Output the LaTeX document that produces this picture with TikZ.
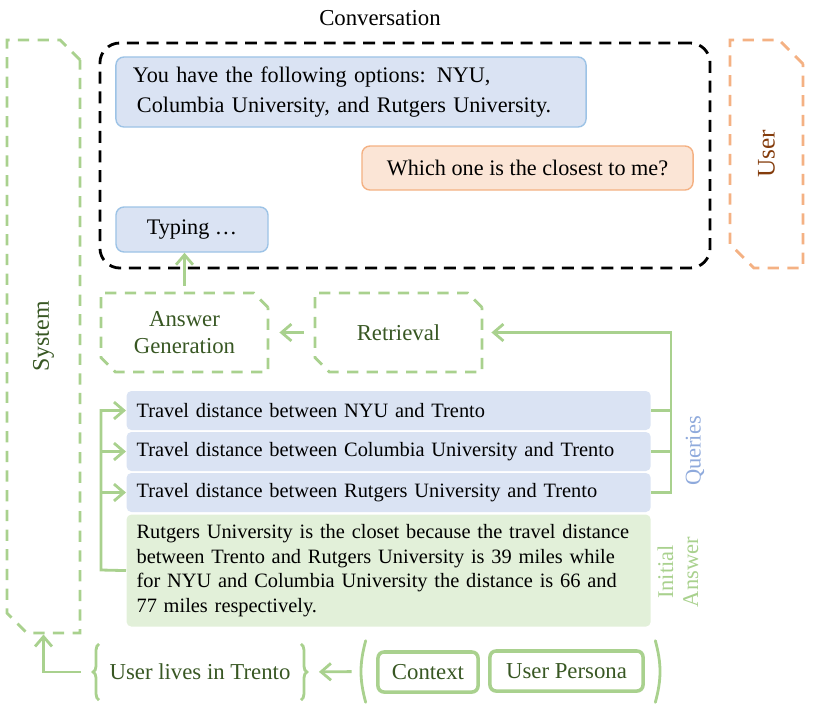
\documentclass[tikz,border=0pt]{standalone}
\usepackage{fontspec}
\setmainfont{Liberation Serif}
\usetikzlibrary{arrows.meta,shapes.misc,decorations.pathreplacing,fit}

\definecolor{msgblue}{HTML}{DAE3F3}
\definecolor{msgblueline}{HTML}{9DC3E6}
\definecolor{msgorange}{HTML}{FBE5D6}
\definecolor{msgorangeline}{HTML}{F4B183}
\definecolor{sysgreen}{HTML}{A9D18E}
\definecolor{ansgreen}{HTML}{E2F0D9}
\definecolor{darkgreen}{HTML}{385723}
\definecolor{userbrown}{HTML}{843C0C}
\definecolor{qblue}{HTML}{8FAADC}

\begin{document}
\begin{tikzpicture}[x=0.025cm, y=-0.025cm, thick,
  >={Straight Barb[length=7pt,width=12pt]},
  convtext/.style={font=\fontsize{15.8}{21.3}\selectfont},
  bubble/.style={rounded corners=0.2cm, line width=1pt, convtext},
  sysbubble/.style={bubble, draw=msgblueline, fill=msgblue},
  userbubble/.style={bubble, draw=msgorangeline, fill=msgorange},
  chambox/.style={chamfered rectangle, chamfered rectangle corners={north east,south west},
    chamfered rectangle xsep=0.18cm, chamfered rectangle ysep=0.18cm,
    draw=sysgreen, dash pattern=on 8pt off 6pt, line width=2pt,
    text=darkgreen, align=center, font=\fontsize{16.2}{19.2}\selectfont},
  query/.style={fill=msgblue, rounded corners=0.12cm, anchor=west, text width=12.6cm,
    inner xsep=0.25cm, minimum height=0.975cm, align=left, font=\fontsize{14.5}{17.5}\selectfont},
  link/.style={draw=sysgreen, line width=2pt},
  tagbox/.style={draw=sysgreen, line width=2.5pt, rounded corners=0.15cm, text=darkgreen,
    minimum height=1cm, font=\fontsize{16.2}{19}\selectfont}]
\useasboundingbox (0,0) rectangle (830,713);

\node[font=\fontsize{16.2}{20}\selectfont] (convtitle) at (380,18) {Conversation};
\node[draw, dash pattern=on 8.5pt off 5.5pt, line width=2pt, rounded corners=0.5cm,
  minimum width=15.25cm, minimum height=5.625cm] (conv) at (405,155.5) {};

\node[sysbubble, text width=10.9cm, inner xsep=0.425cm, minimum height=1.75cm, align=left] (options) at (351,92)
  {\mbox{You have the following options: NYU,}\\\mbox{\hspace*{0.1cm}Columbia University, and Rutgers University.}};
\node[userbubble, minimum width=8.275cm, minimum height=1.1cm] (question) at (527.5,168) {Which one is the closest to me?};
\node[sysbubble, minimum width=3.8cm, minimum height=1.125cm] (typing) at (192,229.5) {Typing \ldots};

\node[chambox, draw=msgorangeline, text=userbrown, chamfered rectangle xsep=0.3cm, chamfered rectangle ysep=0.3cm,
  minimum width=1.825cm, minimum height=5.7cm, font=\fontsize{18}{20}\selectfont] (user) at (766.5,154) {\rotatebox{90}{User}};
\node[chambox, chamfered rectangle xsep=0.25cm, chamfered rectangle ysep=0.25cm,
  minimum width=1.825cm, minimum height=14.825cm, font=\fontsize{17}{20}\selectfont] (system) at (43.5,336.5) {\rotatebox{90}{System}};

\node[chambox, minimum width=4.175cm, minimum height=1.975cm] (ansgen) at (184.5,332.5) {Answer\\Generation};
\node[chambox, minimum width=4.175cm, minimum height=1.975cm] (retrieval) at (398.5,332.5) {Retrieval};

\node[query] (q1) at (126,410.5) {Travel distance between NYU and Trento};
\node[query] (q2) at (126,451.5) {Travel distance between Columbia University and Trento};
\node[query] (q3) at (126,492.5) {Travel distance between Rutgers University and Trento};
\node[query, fill=ansgreen, anchor=north west, minimum height=2.8cm] (answer) at (126,514)
  {Rutgers University is the closet because the travel distance\\
   between Trento and Rutgers University is 39 miles while\\
   for NYU and Columbia University the distance is 66 and\\
   77 miles respectively.};

\node[rotate=90, text=qblue, font=\fontsize{16}{18}\selectfont] (querieslabel) at (695,451) {Queries};
\node[rotate=90, text=sysgreen, align=center, font=\fontsize{16}{17.8}\selectfont] (initiallabel) at (678,572) {Initial\\Answer};

\coordinate (qrail) at (671,492.5);
\draw[link] (q1.east) -- (q1.east -| qrail);
\draw[link] (q2.east) -- (q2.east -| qrail);
\draw[link,->,shorten >=0.2cm] (q3.east) -- (qrail) |- (retrieval.east);
\draw[link,->,shorten <=0.25cm,shorten >=0.25cm] (retrieval.west) -- (ansgen.east);
\draw[link,->,shorten <=0.15cm] (ansgen.north) -- (ansgen.north |- typing.south);

\coordinate (arail) at (101,570);
\draw[link,->] (answer.west) -- (arail) |- (q1.west);
\draw[link,->] (arail |- q2.west) -- (q2.west);
\draw[link,->] (arail |- q3.west) -- (q3.west);

\node[tagbox, minimum width=2.5cm] (context) at (428,672) {Context};
\node[tagbox, minimum width=3.825cm] (persona) at (566.5,671) {User Persona};
\node[fit=(context)(persona), inner xsep=0.25cm, inner ysep=0.2cm] (profile) {};
\draw[link, line cap=round] (profile.north west) to[bend right=15] (profile.south west);
\draw[link, line cap=round] (profile.north east) to[bend left=15] (profile.south east);

\node[text=darkgreen, font=\fontsize{16.2}{19}\selectfont, minimum height=1.375cm, inner xsep=0.25cm] (lives) at (200,672) {User lives in Trento};
\draw[link, decorate, decoration={brace, amplitude=0.15cm}] (lives.south west) -- (lives.north west);
\draw[link, decorate, decoration={brace, amplitude=0.15cm}] (lives.north east) -- (lives.south east);
\draw[link,->,shorten <=0.35cm,shorten >=0.45cm] (profile.west) -- (lives.east);
\draw[link,->,shorten <=0.45cm] (lives.west) -- (lives.west -| system.south) -- (system.south);
\end{tikzpicture}
\end{document}
